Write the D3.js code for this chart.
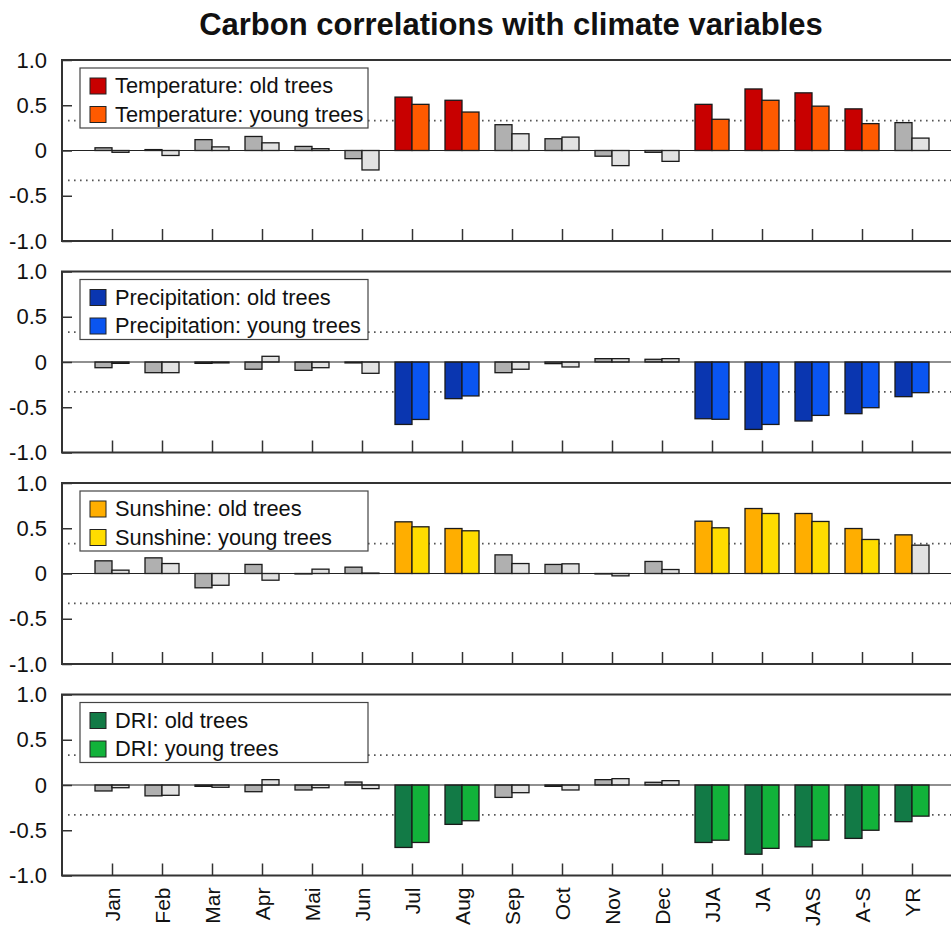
<!DOCTYPE html>
<html>
<head>
<meta charset="utf-8">
<script src="https://cdn.jsdelivr.net/npm/d3@7/dist/d3.min.js"></script>
<style>
  html, body { margin: 0; padding: 0; background: #fff; }
  svg { display: block; }
  text { font-family: "Liberation Sans", Arial, Helvetica, sans-serif; fill: #111; }
</style>
</head>
<body>
<svg id="chart" width="951" height="928"></svg>
<script>
// ---- data ----
const categories = ["Jan","Feb","Mar","Apr","Mai","Jun","Jul","Aug","Sep","Oct","Nov","Dec","JJA","JA","JAS","A-S","YR"];
const yTickValues = [-1, -0.5, 0, 0.5, 1];
const yTickLabels = ["-1.0", "-0.5", "0", "0.5", "1.0"];
const threshold = 0.33;
const title = "Carbon correlations with climate variables";

const tempOld   = [0.03, 0.01, 0.12, 0.155, 0.045, -0.09, 0.59, 0.555, 0.285, 0.13, -0.063, -0.02, 0.51, 0.68, 0.637, 0.46, 0.308];
const tempYoung = [-0.02, -0.055, 0.04, 0.085, 0.02, -0.215, 0.51, 0.425, 0.185, 0.148, -0.167, -0.12, 0.345, 0.555, 0.49, 0.297, 0.137];
const precOld   = [-0.063, -0.118, -0.015, -0.08, -0.092, -0.01, -0.69, -0.405, -0.118, -0.018, 0.037, 0.03, -0.627, -0.745, -0.652, -0.571, -0.383];
const precYoung = [-0.015, -0.118, -0.01, 0.063, -0.063, -0.125, -0.635, -0.375, -0.08, -0.055, 0.037, 0.037, -0.633, -0.69, -0.59, -0.505, -0.339];
const sunOld    = [0.14, 0.173, -0.158, 0.1, -0.005, 0.07, 0.571, 0.497, 0.206, 0.1, -0.005, 0.133, 0.578, 0.718, 0.663, 0.497, 0.427];
const sunYoung  = [0.037, 0.11, -0.13, -0.074, 0.048, 0.005, 0.516, 0.472, 0.11, 0.107, -0.026, 0.044, 0.505, 0.663, 0.575, 0.376, 0.313];
const driOld    = [-0.066, -0.12, -0.015, -0.074, -0.055, 0.033, -0.69, -0.435, -0.137, -0.015, 0.059, 0.03, -0.635, -0.765, -0.683, -0.59, -0.405];
const driYoung  = [-0.03, -0.114, -0.025, 0.059, -0.03, -0.04, -0.635, -0.395, -0.085, -0.055, 0.07, 0.048, -0.61, -0.70, -0.61, -0.5, -0.344];

// 1 = coloured (significant), 0 = grey
const tempOldSig   = [0,0,0,0,0,0,1,1,0,0,0,0,1,1,1,1,0];
const tempYoungSig = [0,0,0,0,0,0,1,1,0,0,0,0,1,1,1,1,0];
const precOldSig   = [0,0,0,0,0,0,1,1,0,0,0,0,1,1,1,1,1];
const precYoungSig = [0,0,0,0,0,0,1,1,0,0,0,0,1,1,1,1,1];
const sunOldSig    = [0,0,0,0,0,0,1,1,0,0,0,0,1,1,1,1,1];
const sunYoungSig  = [0,0,0,0,0,0,1,1,0,0,0,0,1,1,1,1,0];
const driOldSig    = [0,0,0,0,0,0,1,1,0,0,0,0,1,1,1,1,1];
const driYoungSig  = [0,0,0,0,0,0,1,1,0,0,0,0,1,1,1,1,1];

const panelNames = ["Temperature", "Precipitation", "Sunshine", "DRI"];
const seriesSuffix = [": old trees", ": young trees"];

// ---- styles ----
const panels = [
  { name: panelNames[0], old: tempOld, young: tempYoung, oldSig: tempOldSig, youngSig: tempYoungSig, cOld: "#c80000", cYoung: "#ff5a00" },
  { name: panelNames[1], old: precOld, young: precYoung, oldSig: precOldSig, youngSig: precYoungSig, cOld: "#0a36b0", cYoung: "#0a55f0" },
  { name: panelNames[2], old: sunOld,  young: sunYoung,  oldSig: sunOldSig,  youngSig: sunYoungSig,  cOld: "#ffae00", cYoung: "#ffdc00" },
  { name: panelNames[3], old: driOld,  young: driYoung,  oldSig: driOldSig,  youngSig: driYoungSig,  cOld: "#127a46", cYoung: "#12b23a" }
];
const greyOld = "#b0b0b0", greyYoung = "#e2e2e2";

const svg = d3.select("#chart");
const W = 951;
const left = 62, panelH = 181, panelStep = 211.5, firstTop = 60;
const barW = 17;

const x = d3.scaleLinear().domain([-1, 17]).range([left, left + 900]);

svg.append("text")
  .attr("x", 511).attr("y", 35)
  .attr("text-anchor", "middle")
  .style("font-size", "31px").style("font-weight", "bold")
  .text(title);

panels.forEach((p, pi) => {
  const top = firstTop + pi * panelStep;
  const y = d3.scaleLinear().domain([-1, 1]).range([top + panelH, top]);
  const g = svg.append("g");

  // threshold dotted lines
  [threshold, -threshold].forEach(t => {
    g.append("line")
      .attr("x1", left + 6).attr("x2", W)
      .attr("y1", y(t)).attr("y2", y(t))
      .attr("stroke", "#555").attr("stroke-width", 1.6)
      .attr("stroke-dasharray", "1.6,4.4");
  });

  // bars
  const rows = categories.map((c, i) => ({ i, old: p.old[i], young: p.young[i], os: p.oldSig[i], ys: p.youngSig[i] }));
  g.selectAll("rect.old").data(rows).join("rect")
    .attr("class", "old")
    .attr("x", d => x(d.i) - barW)
    .attr("width", barW)
    .attr("y", d => y(Math.max(0, d.old)))
    .attr("height", d => Math.abs(y(d.old) - y(0)))
    .attr("fill", d => d.os ? p.cOld : greyOld)
    .attr("stroke", "#1a1a1a").attr("stroke-width", 1.3);
  g.selectAll("rect.young").data(rows).join("rect")
    .attr("class", "young")
    .attr("x", d => x(d.i))
    .attr("width", barW)
    .attr("y", d => y(Math.max(0, d.young)))
    .attr("height", d => Math.abs(y(d.young) - y(0)))
    .attr("fill", d => d.ys ? p.cYoung : greyYoung)
    .attr("stroke", "#1a1a1a").attr("stroke-width", 1.3);

  // zero line
  g.append("line")
    .attr("x1", left).attr("x2", W)
    .attr("y1", y(0)).attr("y2", y(0))
    .attr("stroke", "#222").attr("stroke-width", 1.2);

  // y axis
  const yAxis = d3.axisLeft(y)
    .tickValues(yTickValues)
    .tickFormat((d, i) => yTickLabels[i])
    .tickSizeInner(-10).tickSizeOuter(0).tickPadding(15);
  const ya = g.append("g").attr("transform", `translate(${left},0)`).call(yAxis);
  ya.select(".domain").remove();
  ya.selectAll("line").attr("stroke", "#333").attr("stroke-width", 1.5);
  ya.selectAll("text").style("font-size", "22px").attr("fill", "#111");

  // x axis ticks
  const xAxis = d3.axisBottom(x)
    .tickValues(d3.range(categories.length))
    .tickFormat(i => pi === panels.length - 1 ? categories[i] : "")
    .tickSizeInner(-12).tickSizeOuter(0).tickPadding(14);
  const xa = g.append("g").attr("transform", `translate(0,${top + panelH})`).call(xAxis);
  xa.select(".domain").remove();
  xa.selectAll("line").attr("stroke", "#333").attr("stroke-width", 1.5);
  xa.selectAll("text")
    .style("font-size", "21px").attr("fill", "#111")
    .attr("text-anchor", "end")
    .attr("transform", "rotate(-90)")
    .attr("x", -12).attr("y", 0).attr("dy", "0.36em");

  // frame (top, left, bottom)
  g.append("path")
    .attr("d", `M${W + 5},${top}H${left}V${top + panelH}H${W + 5}`)
    .attr("fill", "none").attr("stroke", "#333").attr("stroke-width", 2);

  // legend
  const lg = g.append("g").attr("transform", `translate(80,${top + 8})`);
  lg.append("rect").attr("width", 288).attr("height", 60)
    .attr("fill", "#fff").attr("stroke", "#444").attr("stroke-width", 1.2);
  [p.cOld, p.cYoung].forEach((c, k) => {
    lg.append("rect").attr("x", 10).attr("y", 10 + k * 28.5).attr("width", 16).attr("height", 16)
      .attr("fill", c).attr("stroke", "#222").attr("stroke-width", 1);
    lg.append("text").attr("x", 35).attr("y", 25 + k * 28.5)
      .style("font-size", "21.8px")
      .text(p.name + seriesSuffix[k]);
  });
});
</script>
</body>
</html>
